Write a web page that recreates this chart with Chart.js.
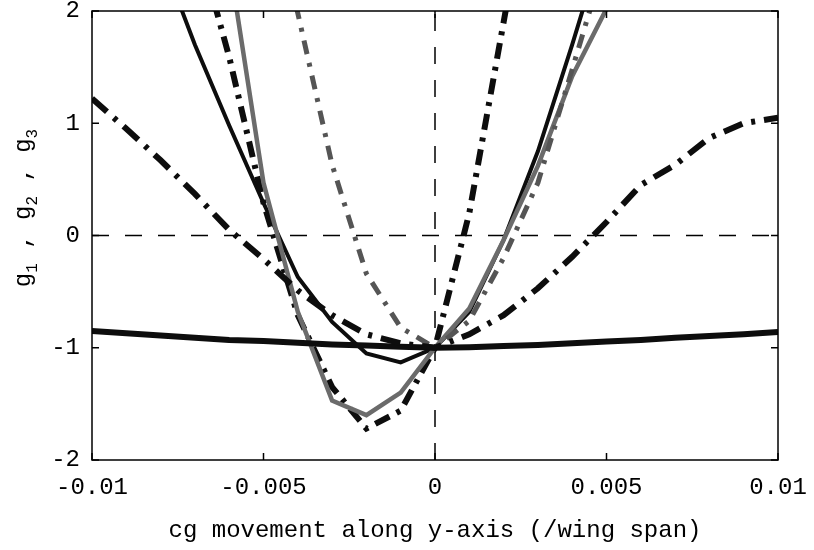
<!DOCTYPE html>
<html>
<head>
<meta charset="utf-8">
<script src="https://cdn.jsdelivr.net/npm/chart.js@4"></script>
<style>
  body { margin: 0; background: #fff; }
  canvas { display: block; }
</style>
</head>
<body>
<canvas id="gChart" width="814" height="550"></canvas>
<script>
// cg offset along span (fraction of wing span)
const xs = [-0.01, -0.009, -0.008, -0.007, -0.006, -0.005, -0.004, -0.003, -0.002, -0.001, 0,
            0.001, 0.002, 0.003, 0.004, 0.005, 0.006, 0.007, 0.008, 0.009, 0.01];

// curves (null = outside the drawn range)
const flatBlack = [-0.85, -0.87, -0.89, -0.91, -0.93, -0.94, -0.955, -0.97, -0.98, -0.99, -1.0,
                   -0.995, -0.985, -0.975, -0.96, -0.945, -0.93, -0.91, -0.895, -0.88, -0.86];
const thinBlack = [null, null, 2.5, 1.7, 0.98, 0.29, -0.37, -0.77, -1.05, -1.13, -1.0,
                   -0.68, -0.04, 0.75, 1.7, 2.7, null, null, null, null, null];
const graySolid = [null, null, null, null, 2.44, 0.47, -0.68, -1.47, -1.6, -1.4, -1.0,
                   -0.65, -0.04, 0.62, 1.42, 2.02, 2.7, null, null, null, null];
const blackDashDot = [null, null, null, 2.7, 1.59, 0.29, -0.71, -1.35, -1.72, -1.56, -1.0,
                      0.2, 1.9, 3.6, null, null, null, null, null, null, null];
const grayDashDot = [null, null, null, null, null, 3.3, 1.98, 0.63, -0.34, -0.82, -1.0,
                     -0.76, -0.2, 0.47, 1.48, 2.5, null, null, null, null, null];
const wideDashDot = [1.22, 0.95, 0.67, 0.37, 0.05, -0.21, -0.49, -0.71, -0.88, -0.96, -1.0,
                     -0.88, -0.71, -0.47, -0.19, 0.12, 0.45, 0.63, 0.87, 1.0, 1.05];

const xTicks = [-0.01, -0.005, 0, 0.005, 0.01];
const yTicks = [-2, -1, 0, 1, 2];
const zeroLineX = [-0.01, 0.01];
const zeroLineY = [-2, 2];

const FONT = "'Liberation Mono', 'DejaVu Sans Mono', monospace";

function pts(ys) {
    return xs.map((x, i) => ({ x: x, y: ys[i] }));
}

function series(ys, color, width, dash) {
    return {
        data: pts(ys),
        borderColor: color,
        borderWidth: width,
        borderDash: dash || [],
        borderCapStyle: 'butt',
        pointRadius: 0,
        tension: 0,
        fill: false
    };
}

// box, inward ticks and the y title with subscripts
const framePlugin = {
    id: 'frame',
    afterDraw(chart) {
        const { ctx, chartArea: a, scales: { x, y } } = chart;
        ctx.save();
        ctx.strokeStyle = '#000';
        ctx.lineWidth = 1.5;
        ctx.strokeRect(a.left, a.top, a.right - a.left, a.bottom - a.top);
        ctx.beginPath();
        xTicks.forEach(v => {
            const px = x.getPixelForValue(v);
            ctx.moveTo(px, a.bottom); ctx.lineTo(px, a.bottom - 7);
            ctx.moveTo(px, a.top); ctx.lineTo(px, a.top + 7);
        });
        yTicks.forEach(v => {
            const py = y.getPixelForValue(v);
            ctx.moveTo(a.left, py); ctx.lineTo(a.left + 7, py);
            ctx.moveTo(a.right, py); ctx.lineTo(a.right - 7, py);
        });
        ctx.stroke();

        // y title: g1 , g2 , g3 rotated
        const parts = [['g', 0], ['1', 1], [' , ', 0], ['g', 0], ['2', 1], [' , ', 0], ['g', 0], ['3', 1]];
        const big = '24px ' + FONT, small = '16px ' + FONT;
        let total = 0;
        parts.forEach(p => { ctx.font = p[1] ? small : big; total += ctx.measureText(p[0]).width; });
        ctx.translate(26, 208);
        ctx.rotate(-Math.PI / 2);
        ctx.fillStyle = '#000';
        ctx.textBaseline = 'alphabetic';
        ctx.textAlign = 'left';
        let cx = -total / 2;
        parts.forEach(p => {
            ctx.font = p[1] ? small : big;
            ctx.fillText(p[0], cx, p[1] ? 11 : 4);
            cx += ctx.measureText(p[0]).width;
        });
        ctx.restore();
    }
};

new Chart(document.getElementById('gChart'), {
    type: 'line',
    data: {
        datasets: [
            {
                data: zeroLineX.map(v => ({ x: v, y: 0 })),
                borderColor: '#000', borderWidth: 1.5, borderDash: [17, 16],
                pointRadius: 0, order: 10
            },
            {
                data: zeroLineY.map(v => ({ x: 0, y: v })),
                borderColor: '#000', borderWidth: 1.5, borderDash: [17, 16],
                pointRadius: 0, order: 10
            },
            series(wideDashDot, '#0d0d0d', 6, [20, 9, 4, 9]),
            series(flatBlack, '#0d0d0d', 6),
            series(grayDashDot, '#555555', 5, [14, 9, 4, 9]),
            series(graySolid, '#6b6b6b', 4.5),
            series(blackDashDot, '#0d0d0d', 6, [16, 8, 4, 8]),
            series(thinBlack, '#0d0d0d', 4)
        ]
    },
    options: {
        responsive: false,
        animation: false,
        devicePixelRatio: 1,
        layout: { padding: { top: 11, right: 36, left: 0, bottom: 0 } },
        plugins: {
            legend: { display: false },
            tooltip: { enabled: false }
        },
        scales: {
            x: {
                type: 'linear',
                min: -0.01,
                max: 0.01,
                afterFit: s => { s.height = 90; s.paddingLeft = 0; s.paddingRight = 0; },
                afterBuildTicks: s => { s.ticks = xTicks.map(v => ({ value: v })); },
                grid: { display: false, drawTicks: false },
                border: { display: false },
                ticks: {
                    padding: 13,
                    color: '#000',
                    font: { family: FONT, size: 24 },
                    callback: v => String(Number(v.toFixed(3)))
                },
                title: {
                    display: true,
                    text: 'cg movement along y-axis (/wing span)',
                    color: '#000',
                    font: { family: FONT, size: 24 },
                    padding: { top: 4, bottom: 5 }
                }
            },
            y: {
                min: -2,
                max: 2,
                afterFit: s => { s.width = 92; s.paddingTop = 0; s.paddingBottom = 0; },
                afterBuildTicks: s => { s.ticks = yTicks.map(v => ({ value: v })); },
                grid: { display: false, drawTicks: false },
                border: { display: false },
                ticks: {
                    padding: 12,
                    color: '#000',
                    font: { family: FONT, size: 24 }
                }
            }
        }
    },
    plugins: [framePlugin]
});
</script>
</body>
</html>
